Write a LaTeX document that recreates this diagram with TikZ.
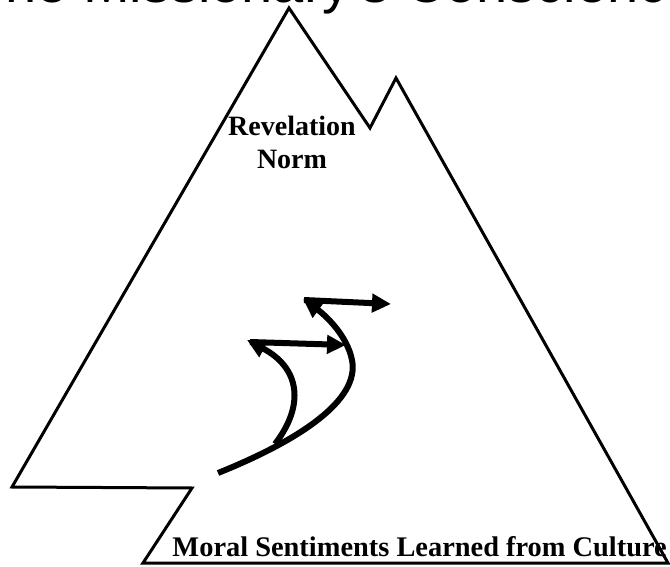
\documentclass[tikz,border=0pt]{standalone}
\usepackage{fontspec}
\setmainfont{Liberation Serif}
\newfontfamily\titlefont{Liberation Sans}
\usetikzlibrary{arrows.meta}
\tikzset{
  outline/.style={line width=3pt, line join=miter},
  bigarrow/.style={line width=6pt, -{Triangle[length=19pt,width=18pt]}},
  lbl/.style={font=\fontsize{28}{33}\selectfont\bfseries, inner sep=0pt},
}
\begin{document}
\begin{tikzpicture}[x=1pt,y=-1pt]
\clip (0,0) rectangle (670,567);
\fill[white] (0,0) rectangle (670,567);
% title (cut by the top edge)
\node[font=\titlefont\fontsize{56}{60}\selectfont, anchor=base west, inner sep=0pt] (title) at (-29,3) {The Missionary's Conscience};
% mountain outline
\coordinate (p1) at (12,487);
\coordinate (p2) at (289,8);
\coordinate (p3) at (370,128);
\coordinate (p4) at (396,78);
\coordinate (p5) at (668,563);
\coordinate (p6) at (143,563);
\coordinate (p7) at (192,488);
\draw[outline] (p1) -- (p2) -- (p3) -- (p4) -- (p5) -- (p6) -- (p7) -- cycle;
% labels
\node[lbl, anchor=base] (rev) at (292,136) {Revelation};
\node[lbl, anchor=base] (norm) at (292,169) {Norm};
\node[lbl, font=\fontsize{28.4}{33}\selectfont\bfseries, anchor=base east] (moral) at (667,556) {Moral Sentiments Learned from Culture};
% arrows
\coordinate (a0) at (218,473);
\coordinate (a1) at (352,360);
\coordinate (a2) at (303,299);
\coordinate (a3) at (391,304);
\coordinate (b0) at (275,444);
\coordinate (b1) at (247,340);
\coordinate (b2) at (346,345);
\draw[bigarrow] (a0) .. controls (300,440) and (360,400) .. (a1) .. controls (347,335) and (325,315) .. (a2);
\draw[bigarrow] (304,300) -- (a3);
\draw[bigarrow] (b0) .. controls (305,405) and (300,368) .. (b1);
\draw[bigarrow] (250,342) -- (b2);
\end{tikzpicture}
\end{document}
